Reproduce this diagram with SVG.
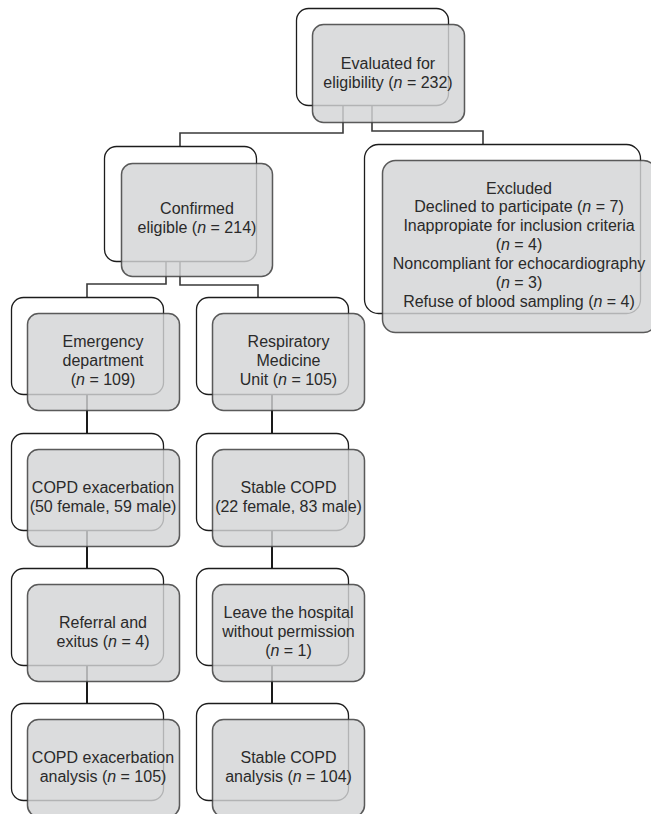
<svg xmlns="http://www.w3.org/2000/svg" width="651" height="814" viewBox="0 0 651 814">
<style>
.o{fill:none;stroke:#1c1c1c;stroke-width:1.3}
.g{fill:#d3d4d6;fill-opacity:0.82;stroke:#3f3f3f;stroke-opacity:0.85;stroke-width:1.5}
.c{fill:none;stroke:#3a3a3a;stroke-width:1.6}
.r{fill:none;stroke:#1a1a1a;stroke-width:2}
text{font-family:"Liberation Sans",Arial,sans-serif;font-size:16px;fill:#2a2a2a;text-anchor:middle}
.i{font-style:italic}
</style>
<rect width="651" height="814" fill="#ffffff"/>
<g id="connectors">
<path class="c" d="M343 105V133H180V146"/>
<path class="c" d="M372 105V131H483V144"/>
<path class="c" d="M166 261V284H87V297"/>
<path class="c" d="M180 261V285H258V297"/>
<path class="r" d="M87 394V433M87 530V568M87 665V703"/>
<path class="r" d="M272 394V433M272 530V568M272 665V703"/>
</g>
<g id="evaluated">
<rect class="o" x="296.5" y="8.5" width="152" height="97" rx="12"/>
<rect class="g" x="312.5" y="24.5" width="152" height="98" rx="11"/>
<text x="388" y="68.5">Evaluated for</text>
<text x="388" y="87.5">eligibility (<tspan class="i">n</tspan> = 232)</text>
</g>
<g id="confirmed">
<rect class="o" x="104.5" y="146.5" width="152" height="115" rx="12"/>
<rect class="g" x="121.5" y="163.5" width="151" height="113" rx="11"/>
<text x="197" y="214">Confirmed</text>
<text x="197" y="233">eligible (<tspan class="i">n</tspan> = 214)</text>
</g>
<g id="excluded">
<rect class="o" x="364.5" y="144.5" width="276" height="169" rx="14"/>
<rect class="g" x="382.5" y="160.5" width="274" height="172" rx="13"/>
<text x="519" y="193.5">Excluded</text>
<text x="519" y="212.4">Declined to participate (<tspan class="i">n</tspan> = 7)</text>
<text x="519" y="231.3">Inappropiate for inclusion criteria</text>
<text x="519" y="250.2">(<tspan class="i">n</tspan> = 4)</text>
<text x="519" y="269.1">Noncompliant for echocardiography</text>
<text x="519" y="288">(<tspan class="i">n</tspan> = 3)</text>
<text x="519" y="306.9">Refuse of blood sampling (<tspan class="i">n</tspan> = 4)</text>
</g>
<g id="emergency">
<rect class="o" x="11.5" y="297.5" width="152" height="97" rx="12"/>
<rect class="g" x="27.5" y="313.5" width="152" height="97" rx="11"/>
<text x="103" y="347">Emergency</text>
<text x="103" y="366">department</text>
<text x="103" y="385">(<tspan class="i">n</tspan> = 109)</text>
</g>
<g id="respiratory">
<rect class="o" x="196.5" y="297.5" width="152" height="97" rx="12"/>
<rect class="g" x="212.5" y="313.5" width="152" height="97" rx="11"/>
<text x="288.5" y="347">Respiratory</text>
<text x="288.5" y="366">Medicine</text>
<text x="288.5" y="385">Unit (<tspan class="i">n</tspan> = 105)</text>
</g>
<g id="copd-exacerbation">
<rect class="o" x="11.5" y="433.5" width="152" height="97" rx="12"/>
<rect class="g" x="27.5" y="449.5" width="152" height="97" rx="11"/>
<text x="103" y="492.5">COPD exacerbation</text>
<text x="103" y="511.5">(50 female, 59 male)</text>
</g>
<g id="stable-copd">
<rect class="o" x="196.5" y="433.5" width="152" height="97" rx="12"/>
<rect class="g" x="212.5" y="449.5" width="152" height="97" rx="11"/>
<text x="288.5" y="492.5">Stable COPD</text>
<text x="288.5" y="511.5">(22 female, 83 male)</text>
</g>
<g id="referral">
<rect class="o" x="11.5" y="568.5" width="152" height="97" rx="12"/>
<rect class="g" x="27.5" y="584.5" width="152" height="97" rx="11"/>
<text x="103" y="627.5">Referral and</text>
<text x="103" y="646.5">exitus (<tspan class="i">n</tspan> = 4)</text>
</g>
<g id="leave">
<rect class="o" x="196.5" y="568.5" width="152" height="97" rx="12"/>
<rect class="g" x="212.5" y="584.5" width="152" height="97" rx="11"/>
<text x="288.5" y="618">Leave the hospital</text>
<text x="288.5" y="637">without permission</text>
<text x="288.5" y="656">(<tspan class="i">n</tspan> = 1)</text>
</g>
<g id="copd-analysis">
<rect class="o" x="11.5" y="703.5" width="152" height="97" rx="12"/>
<rect class="g" x="27.5" y="719.5" width="152" height="97" rx="11"/>
<text x="103" y="762.5">COPD exacerbation</text>
<text x="103" y="781.5">analysis (<tspan class="i">n</tspan> = 105)</text>
</g>
<g id="stable-analysis">
<rect class="o" x="196.5" y="703.5" width="152" height="97" rx="12"/>
<rect class="g" x="212.5" y="719.5" width="152" height="97" rx="11"/>
<text x="288.5" y="762.5">Stable COPD</text>
<text x="288.5" y="781.5">analysis (<tspan class="i">n</tspan> = 104)</text>
</g>
</svg>
